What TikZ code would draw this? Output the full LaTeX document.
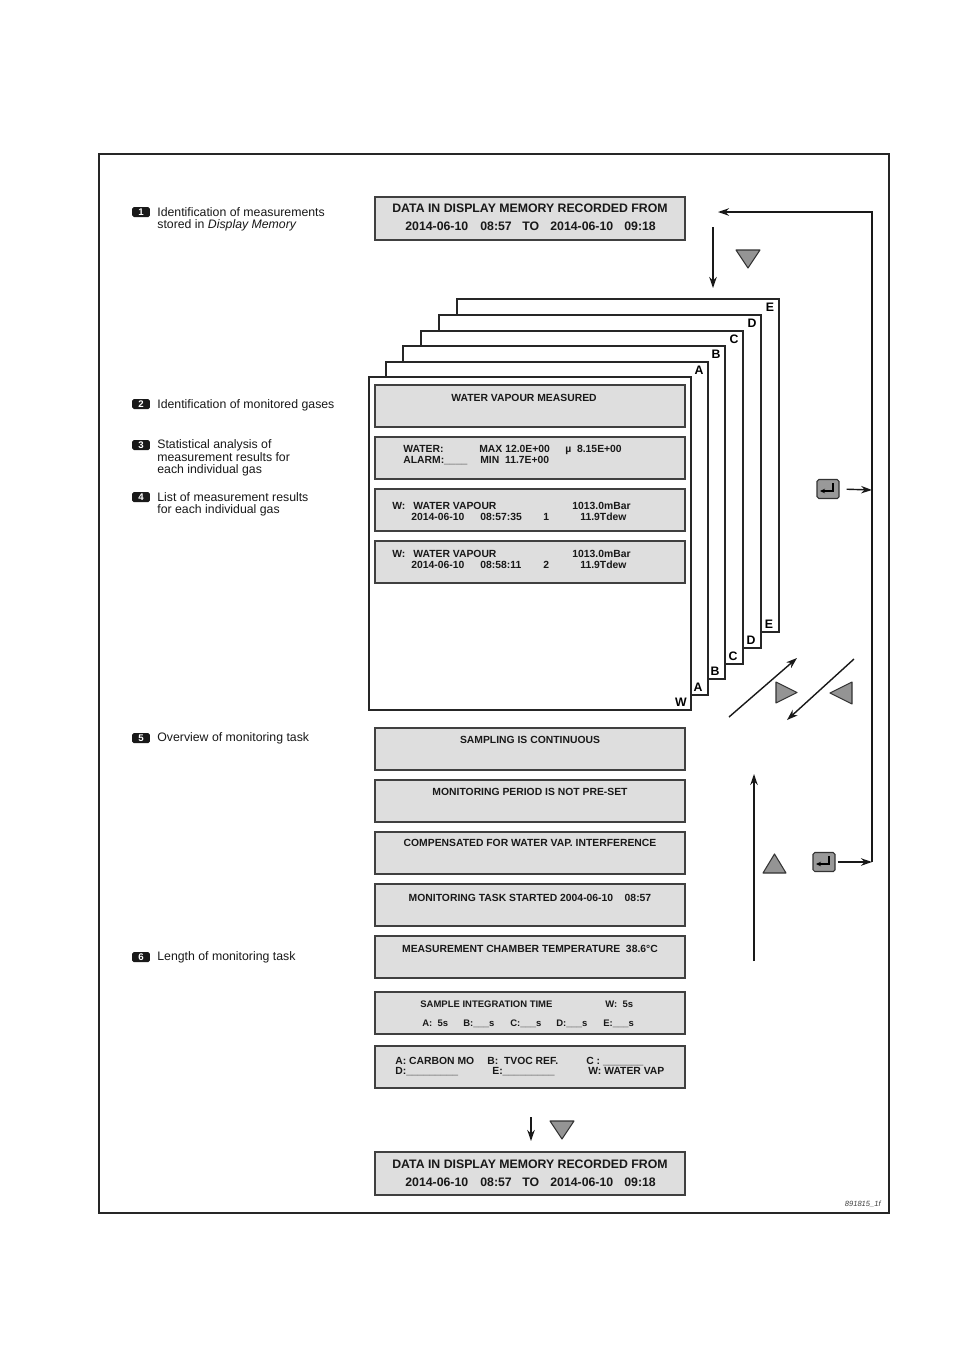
\documentclass[tikz,border=0pt]{standalone}
\usepackage{fontspec}
\setmainfont{Liberation Sans}
\usetikzlibrary{arrows.meta}
\begin{document}
\begin{tikzpicture}[x=0.02cm,y=-0.02cm,
  frame/.style={draw=black!85,line width=0.9pt},
  pagebox/.style={draw=black!85,fill=white,line width=0.9pt,anchor=north west,minimum width=6.44cm,minimum height=6.66cm,inner sep=0pt,outer sep=0pt},
  dbox/.style={draw=black!75,fill=black!13,line width=0.9pt,anchor=north west,minimum width=6.2cm,minimum height=0.84cm,inner sep=0pt,outer sep=0pt},
  ttl/.style={font=\bfseries\fontsize{7}{8}\selectfont,inner sep=0pt,text=black!90},
  itx/.style={font=\bfseries\fontsize{5.9}{7}\selectfont,inner sep=0pt,text=black!90,anchor=mid west},
  ctx/.style={font=\bfseries\fontsize{5.9}{7}\selectfont,inner sep=0pt,text=black!90,anchor=mid},
  stx/.style={font=\bfseries\fontsize{5.4}{6}\selectfont,inner sep=0pt,text=black!90,anchor=mid west},
  ltr/.style={font=\bfseries\fontsize{7}{8}\selectfont,inner sep=0pt,anchor=mid},
  lbl/.style={font=\fontsize{7}{8}\selectfont,inner sep=0pt,anchor=mid west,text=black!90},
  badge/.style={fill=black!90,text=white,rounded corners=1pt,minimum width=0.36cm,minimum height=0.2cm,inner sep=0pt,font=\bfseries\fontsize{5.5}{5.5}\selectfont},
  keybox/.style={draw=black!80,fill=black!40,rounded corners=1pt,minimum width=0.44cm,minimum height=0.38cm,inner sep=0pt,line width=0.6pt},
  arr/.style={line width=0.8pt,draw=black!90,-{Stealth[length=0.22cm,width=0.15cm]}},
  glyph/.style={line width=0.6pt,draw=black,-{Stealth[length=0.1cm,width=0.09cm]}},
  tri/.style={draw=black!80,fill=black!42,line width=0.6pt,line join=round}
]
\useasboundingbox (0,0) rectangle (955,1350);
\fill[white] (0,0) rectangle (955,1350);
% outer frame
\draw[frame] (99,154) rectangle (889,1213);

% ---------- left labels ----------
\node[badge] (n1) at (141,212) {1};
\node[lbl] (t1a) at (157,212) {Identification of measurements};
\node[lbl] (t1b) at (157,224) {stored in \textit{Display Memory}};
\node[badge] (n2) at (141,404) {2};
\node[lbl] (t2a) at (157,404) {Identification of monitored gases};
\node[badge] (n3) at (141,445) {3};
\node[lbl] (t3a) at (157,444) {Statistical analysis of};
\node[lbl] (t3b) at (157,457) {measurement results for};
\node[lbl] (t3c) at (157,469) {each individual gas};
\node[badge] (n4) at (141,497) {4};
\node[lbl] (t4a) at (157,497) {List of measurement results};
\node[lbl] (t4b) at (157,509) {for each individual gas};
\node[badge] (n5) at (141,738) {5};
\node[lbl] (t5a) at (157,737) {Overview of monitoring task};
\node[badge] (n6) at (141,957) {6};
\node[lbl] (t6a) at (157,956) {Length of monitoring task};

% ---------- top box ----------
\node[dbox,minimum height=0.86cm] (b0) at (375,197) {};
\node[ttl,anchor=mid] (b0t) at (530,208) {DATA IN DISPLAY MEMORY RECORDED FROM};
\node[ttl,anchor=mid west] (b0d1) at (405,226) {2014-06-10};
\node[ttl,anchor=mid west] (b0d2) at (480,226) {08:57};
\node[ttl,anchor=mid west] (b0d3) at (522,226) {TO};
\node[ttl,anchor=mid west] (b0d4) at (550,226) {2014-06-10};
\node[ttl,anchor=mid west] (b0d5) at (624,226) {09:18};

% ---------- stacked pages ----------
\node[pagebox] (pE) at (457,299) {};
\node[ltr] (pEt) at (770,307) {E};
\node[ltr] (pEb) at (769,624) {E};
\node[pagebox] (pD) at (439,315) {};
\node[ltr] (pDt) at (752,323) {D};
\node[ltr] (pDb) at (751,640) {D};
\node[pagebox] (pC) at (421,331) {};
\node[ltr] (pCt) at (734,339) {C};
\node[ltr] (pCb) at (733,656) {C};
\node[pagebox] (pB) at (403,346) {};
\node[ltr] (pBt) at (716,354) {B};
\node[ltr] (pBb) at (715,671) {B};
\node[pagebox] (pA) at (386,362) {};
\node[ltr] (pAt) at (699,370) {A};
\node[ltr] (pAb) at (698,687) {A};
\node[pagebox] (pW) at (369,377) {};
\node[ltr] (pWb) at (681,702) {W};

% boxes on page W
\node[dbox] (b2) at (375,385) {};
\node[ctx] (b2t) at (524,397) {WATER VAPOUR MEASURED};

\node[dbox] (b3) at (375,437) {};
\node[itx] (b3a) at (403,448) {WATER:};
\node[itx] (b3b) at (479,448) {MAX 12.0E+00};
\node[itx] (b3c) at (565,448) {µ~ 8.15E+00};
\node[itx] (b3d) at (403,459) {ALARM:\_\_\_\_};
\node[itx] (b3e) at (480,459) {MIN~ 11.7E+00};

\node[dbox] (b4) at (375,489) {};
\node[itx] (b4a) at (392,505) {W:};
\node[itx] (b4b) at (413,505) {WATER VAPOUR};
\node[itx] (b4c) at (572,505) {1013.0mBar};
\node[itx] (b4d) at (411,516) {2014-06-10};
\node[itx] (b4e) at (480,516) {08:57:35};
\node[itx] (b4f) at (543,516) {1};
\node[itx] (b4g) at (580,516) {11.9Tdew};

\node[dbox] (b5) at (375,541) {};
\node[itx] (b5a) at (392,553) {W:};
\node[itx] (b5b) at (413,553) {WATER VAPOUR};
\node[itx] (b5c) at (572,553) {1013.0mBar};
\node[itx] (b5d) at (411,564) {2014-06-10};
\node[itx] (b5e) at (480,564) {08:58:11};
\node[itx] (b5f) at (543,564) {2};
\node[itx] (b5g) at (580,564) {11.9Tdew};

% ---------- lower boxes ----------
\node[dbox] (b6) at (375,728) {};
\node[ctx] (b6t) at (530,739) {SAMPLING IS CONTINUOUS};
\node[dbox] (b7) at (375,780) {};
\node[ctx] (b7t) at (530,791) {MONITORING PERIOD IS NOT PRE-SET};
\node[dbox] (b8) at (375,832) {};
\node[ctx] (b8t) at (530,842) {COMPENSATED FOR WATER VAP. INTERFERENCE};
\node[dbox] (b9) at (375,884) {};
\node[ctx] (b9t) at (530,897) {MONITORING TASK STARTED 2004-06-10~~~~08:57};
\node[dbox] (b10) at (375,936) {};
\node[ctx] (b10t) at (530,948) {MEASUREMENT CHAMBER TEMPERATURE~~38.6°C};

\node[dbox] (b11) at (375,992) {};
\node[stx] (b11a) at (420,1003) {SAMPLE INTEGRATION TIME};
\node[stx] (b11b) at (605,1003) {W:~~5s};
\node[stx] (b11c) at (422,1022) {A:~~5s};
\node[stx] (b11d) at (463,1022) {B:\_\_\_s};
\node[stx] (b11e) at (510,1022) {C:\_\_\_s};
\node[stx] (b11f) at (556,1022) {D:\_\_\_s};
\node[stx] (b11g) at (603,1022) {E:\_\_\_s};

\node[dbox] (b12) at (375,1046) {};
\node[itx] (b12a) at (395,1060) {A: CARBON MO};
\node[itx] (b12b) at (487,1060) {B:~~TVOC REF.};
\node[itx] (b12c) at (586,1060) {C :~\_\_\_\_\_\_\_};
\node[itx] (b12d) at (395,1070) {D:\_\_\_\_\_\_\_\_\_};
\node[itx] (b12e) at (492,1070) {E:\_\_\_\_\_\_\_\_\_};
\node[itx] (b12f) at (588,1070) {W: WATER VAP};

% bottom box
\node[dbox,minimum height=0.86cm] (b13) at (375,1152) {};
\node[ttl,anchor=mid] (b13t) at (530,1164) {DATA IN DISPLAY MEMORY RECORDED FROM};
\node[ttl,anchor=mid west] (b13d1) at (405,1182) {2014-06-10};
\node[ttl,anchor=mid west] (b13d2) at (480,1182) {08:57};
\node[ttl,anchor=mid west] (b13d3) at (522,1182) {TO};
\node[ttl,anchor=mid west] (b13d4) at (550,1182) {2014-06-10};
\node[ttl,anchor=mid west] (b13d5) at (624,1182) {09:18};

\node[font=\itshape\fontsize{4.3}{5}\selectfont,text=black!75,anchor=mid east,inner sep=0pt] (ref) at (881,1202) {891815\_1f};

% ---------- arrows and symbols ----------
% top down arrow + triangle
\coordinate (dTop1) at (713,227);
\coordinate (dTop2) at (713,288);
\draw[arr] (dTop1) -- (dTop2);
\draw[tri] (736,250) -- (760,250) -- (748,268) -- cycle;

% right loop
\coordinate (rTop) at (872,212);
\coordinate (rTip) at (718,212);
\coordinate (rMid) at (872,490);
\coordinate (rBot) at (872,862);
\node[keybox] (k1) at (828,489) {};
\draw[glyph] ([shift={(5,-6)}]k1.center) -- ++(0,8) -- ++(-13,0);
\node[keybox] (k2) at (824,862) {};
\draw[glyph] ([shift={(5,-6)}]k2.center) -- ++(0,8) -- ++(-13,0);
\draw[arr,shorten <=0.14cm] (k1.east) -- (rMid);
\draw[arr,shorten <=0.04cm] (k2.east) -- (rBot);
\draw[arr] (rBot) -- (rTop) -- (rTip);

% diagonal arrows
\coordinate (dg1a) at (729,717);
\coordinate (dg1b) at (797,658);
\draw[arr] (dg1a) -- (dg1b);
\draw[tri] (776,682) -- (797,692.5) -- (776,703) -- cycle;
\coordinate (dg2a) at (854,659);
\coordinate (dg2b) at (787,720);
\draw[arr] (dg2a) -- (dg2b);
\draw[tri] (852,682) -- (830,693) -- (852,704) -- cycle;

% up arrow
\coordinate (up1) at (754,961);
\coordinate (up2) at (754,774);
\draw[arr] (up1) -- (up2);
\draw[tri] (763,873) -- (786,873) -- (774.5,854) -- cycle;

% bottom down arrow
\coordinate (bd1) at (531,1117);
\coordinate (bd2) at (531,1141);
\draw[arr] (bd1) -- (bd2);
\draw[tri] (550,1121) -- (574,1121) -- (562,1139) -- cycle;
\end{tikzpicture}
\end{document}
